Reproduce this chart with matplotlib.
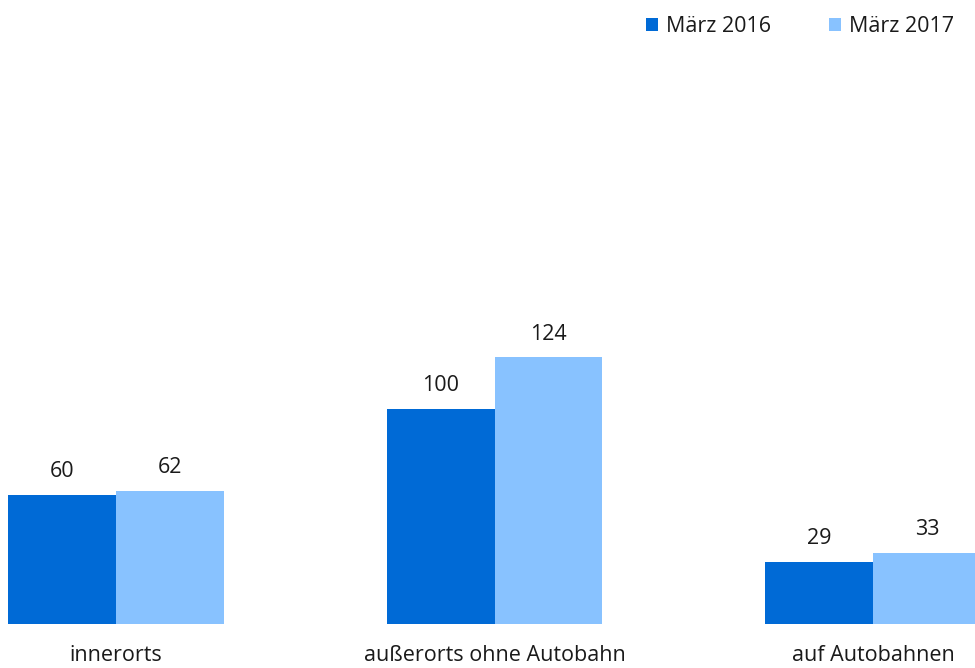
import matplotlib.pyplot as plt
import numpy as np

categories = ['innerorts', 'außerorts ohne Autobahn', 'auf Autobahnen']
series_names = ['März 2016', 'März 2017']
values_2016 = [60, 100, 29]
values_2017 = [62, 124, 33]

dark = '#006ad6'
light = '#88c2ff'

plt.rcParams['font.family'] = ['Open Sans', 'DejaVu Sans']

fig = plt.figure(figsize=(9.75, 6.68), dpi=100)
ax = fig.add_axes([0, 1 - 624 / 668, 1, 624 / 668])

x = np.arange(len(categories))
w = 0.285
b1 = ax.bar(x - w / 2, values_2016, w, color=dark, label=series_names[0])
b2 = ax.bar(x + w / 2, values_2017, w, color=light, label=series_names[1])

for bars, vals in ((b1, values_2016), (b2, values_2017)):
    for rect, v in zip(bars, vals):
        ax.annotate(str(v), (rect.get_x() + rect.get_width() / 2, rect.get_height()),
                    xytext=(0, 9), textcoords='offset points',
                    ha='center', va='bottom', fontsize=15.5, color='#1a1a1a')

ax.set_xlim(-0.306, 2.269)
ax.set_ylim(0, 290)
ax.set_xticks(x)
ax.set_xticklabels(categories, fontsize=15.5, color='#1a1a1a')
ax.tick_params(axis='x', length=0, pad=15)
ax.set_yticks([])
for s in ax.spines.values():
    s.set_visible(False)

fig.legend(handles=[b1, b2], loc='upper right', bbox_to_anchor=(0.998, 1.005),
           ncol=2, frameon=False, fontsize=15.5, handlelength=0.55, handleheight=0.55,
           handletextpad=0.35, columnspacing=2.72, labelcolor='#1a1a1a')

fig.savefig('out.png', dpi=100)
